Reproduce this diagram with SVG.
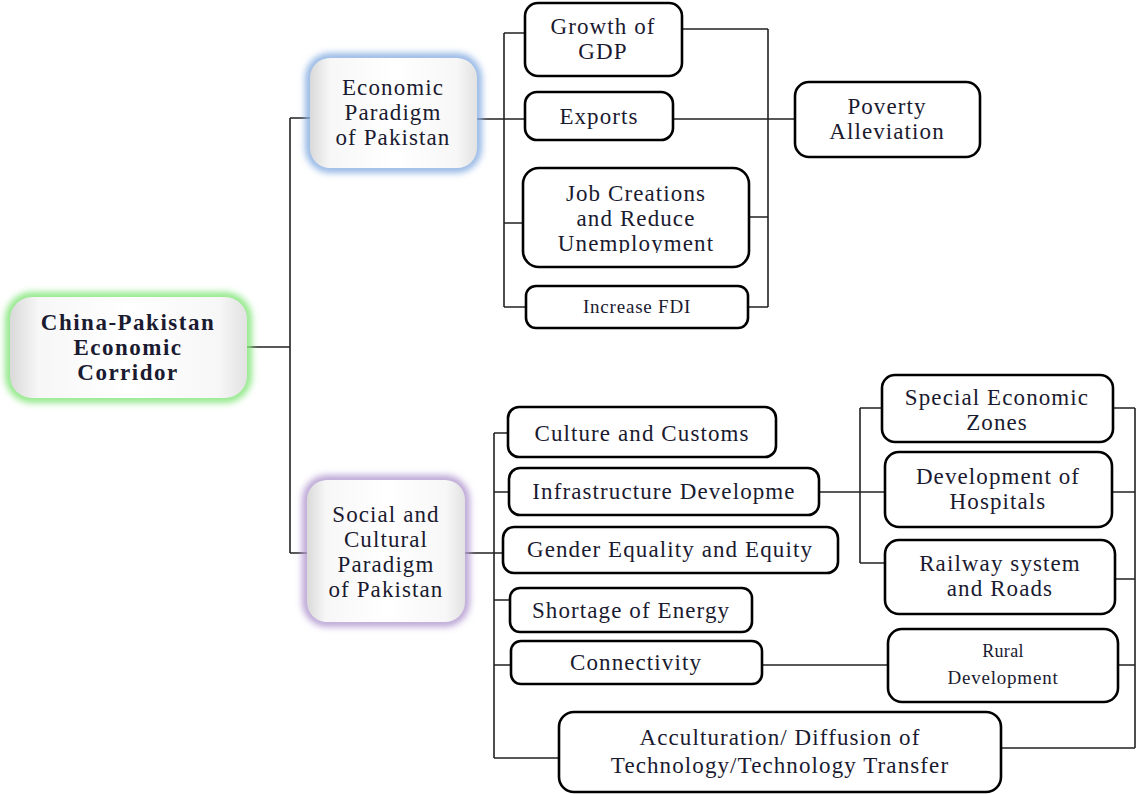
<svg xmlns="http://www.w3.org/2000/svg" width="1136" height="794" viewBox="0 0 1136 794">
<defs>
  <filter id="blur" x="-20%" y="-20%" width="140%" height="140%">
    <feGaussianBlur stdDeviation="3.5"/>
  </filter>
  <linearGradient id="shadeH" x1="0" y1="0" x2="1" y2="0">
    <stop offset="0" stop-color="#d9d9d9"/>
    <stop offset="0.12" stop-color="#f7f7f7"/>
    <stop offset="0.5" stop-color="#ffffff"/>
    <stop offset="0.88" stop-color="#f7f7f7"/>
    <stop offset="1" stop-color="#e2e2e2"/>
  </linearGradient>
  <clipPath id="jobclip"><rect x="520" y="160" width="240" height="93"/></clipPath>
  <style>
    .box{fill:#fff;stroke:#000;stroke-width:2.6}
    .glow{fill:none;stroke-width:9;filter:url(#blur)}
    .inner{fill:url(#shadeH);stroke:none}
    .t{font-family:"Liberation Serif","Times New Roman",serif;font-size:23px;letter-spacing:1.1px;fill:#1a1a30;text-anchor:middle}
    .b{font-weight:bold;letter-spacing:1.5px}
    .s{font-size:19px;letter-spacing:0.8px}
    .xs{font-size:18px;letter-spacing:0.3px}
    .c{fill:none;stroke:#222;stroke-width:1.6}
  </style>
</defs>
<rect width="1136" height="794" fill="#fff"/>

<g id="connectors" class="c">
  <path d="M247,347 H290 M290,118 V553 M290,118 H310 M290,553 H307"/>
  <path d="M477,119 H525 M504,33 V307 M504,33 H525 M504,223 H523 M504,307 H526"/>
  <path d="M673,119 H795 M768,29 V307 M682,29 H768 M749,217 H768 M748,307 H768"/>
  <path d="M465,553 H503 M494,433 V758 M494,433 H508 M494,492 H509 M494,600 H510 M494,665 H511 M494,758 H560"/>
  <path d="M819,492 H885 M860,408 V563 M860,408 H882 M860,563 H885"/>
  <path d="M762,665 H888"/>
  <path d="M1135,408 V748 M1113,408 H1135 M1112,492 H1135 M1115,579 H1135 M1118,665 H1135 M1001,748 H1135"/>
</g>

<g id="root">
  <rect class="glow" stroke="#86e67e" x="10" y="297" width="237" height="101" rx="22"/>
  <rect class="inner" x="10" y="297" width="237" height="101" rx="22"/>
  <text class="t b" x="128" y="330">China-Pakistan</text>
  <text class="t b" x="128" y="355">Economic</text>
  <text class="t b" x="128" y="380">Corridor</text>
</g>

<g id="economic">
  <rect class="glow" stroke="#8bb0e2" x="310" y="58" width="167" height="110" rx="20"/>
  <rect class="inner" x="310" y="58" width="167" height="110" rx="20"/>
  <text class="t" x="393" y="95">Economic</text>
  <text class="t" x="393" y="120">Paradigm</text>
  <text class="t" x="393" y="145">of Pakistan</text>
</g>

<g id="social">
  <rect class="glow" stroke="#b59dd2" x="307" y="480" width="158" height="142" rx="20"/>
  <rect class="inner" x="307" y="480" width="158" height="142" rx="20"/>
  <text class="t" x="386" y="522">Social and</text>
  <text class="t" x="386" y="547">Cultural</text>
  <text class="t" x="386" y="572">Paradigm</text>
  <text class="t" x="386" y="597">of Pakistan</text>
</g>

<g id="growth">
  <rect class="box" x="525" y="3" width="157" height="73" rx="13"/>
  <text class="t" x="603" y="34">Growth of</text>
  <text class="t" x="603" y="59">GDP</text>
</g>
<g id="exports">
  <rect class="box" x="525" y="92" width="148" height="48" rx="12"/>
  <text class="t" x="599" y="124">Exports</text>
</g>
<g id="job">
  <rect class="box" x="523" y="168" width="226" height="99" rx="16"/>
  <text class="t" x="636" y="201">Job Creations</text>
  <text class="t" x="636" y="226">and Reduce</text>
  <text class="t" x="636" y="251" clip-path="url(#jobclip)">Unemployment</text>
</g>
<g id="fdi">
  <rect class="box" x="526" y="286" width="222" height="42" rx="10"/>
  <text class="t s" x="637" y="313">Increase  FDI</text>
</g>
<g id="poverty">
  <rect class="box" x="795" y="82" width="185" height="75" rx="14"/>
  <text class="t" x="887" y="114">Poverty</text>
  <text class="t" x="887" y="139">Alleviation</text>
</g>

<g id="culture">
  <rect class="box" x="508" y="407" width="268" height="50" rx="11"/>
  <text class="t" x="642" y="441">Culture and Customs</text>
</g>
<g id="infrastructure">
  <rect class="box" x="509" y="468" width="310" height="47" rx="11"/>
  <text class="t" x="664" y="499">Infrastructure Developme</text>
</g>
<g id="gender">
  <rect class="box" x="503" y="527" width="335" height="46" rx="11"/>
  <text class="t" x="670" y="557">Gender Equality and Equity</text>
</g>
<g id="shortage">
  <rect class="box" x="510" y="588" width="242" height="44" rx="10"/>
  <text class="t" x="631" y="618">Shortage of Energy</text>
</g>
<g id="connectivity">
  <rect class="box" x="511" y="641" width="251" height="43" rx="10"/>
  <text class="t" x="636" y="670">Connectivity</text>
</g>
<g id="acculturation">
  <rect class="box" x="559" y="712" width="442" height="80" rx="15"/>
  <text class="t" x="780" y="745">Acculturation/ Diffusion of</text>
  <text class="t" x="780" y="773">Technology/Technology Transfer</text>
</g>
<g id="special">
  <rect class="box" x="882" y="375" width="231" height="67" rx="13"/>
  <text class="t" x="997" y="405">Special Economic</text>
  <text class="t" x="997" y="430">Zones</text>
</g>
<g id="hospitals">
  <rect class="box" x="885" y="452" width="227" height="75" rx="14"/>
  <text class="t" x="998" y="484">Development of</text>
  <text class="t" x="998" y="509">Hospitals</text>
</g>
<g id="railway">
  <rect class="box" x="885" y="540" width="230" height="74" rx="14"/>
  <text class="t" x="1000" y="571">Railway system</text>
  <text class="t" x="1000" y="596">and Roads</text>
</g>
<g id="rural">
  <rect class="box" x="888" y="629" width="230" height="73" rx="14"/>
  <text class="t xs" x="1003" y="657">Rural</text>
  <text class="t s" x="1003" y="684">Development</text>
</g>
</svg>
